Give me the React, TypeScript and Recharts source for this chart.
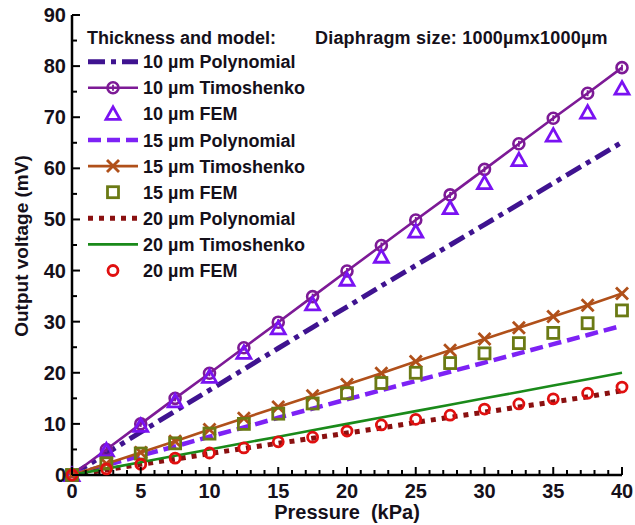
import { LineChart, Line, XAxis, YAxis } from 'recharts'

// pressure in kPa, output voltage in mV
const pressure = [0, 2.5, 5, 7.5, 10, 12.5, 15, 17.5, 20, 22.5, 25, 27.5, 30, 32.5, 35, 37.5, 40]

const poly10 = [0, 4.2, 8.4, 12.5, 16.6, 20.7, 24.8, 28.9, 32.9, 37.0, 41.0, 45.0, 49.0, 53.0, 57.1, 61.1, 65.1]
const tim10 = [0, 5.0, 10.0, 15.0, 19.9, 24.9, 29.9, 34.9, 39.9, 44.9, 49.9, 54.8, 59.8, 64.8, 69.8, 74.7, 79.7]
const fem10 = [0, 4.8, 9.6, 14.4, 19.2, 23.9, 28.7, 33.4, 38.2, 42.7, 47.6, 52.2, 57.1, 61.6, 66.4, 70.9, 75.6]
const poly15 = [0, 1.9, 3.8, 5.6, 7.5, 9.3, 11.2, 13.0, 14.8, 16.6, 18.4, 20.2, 22.0, 23.8, 25.6, 27.4, 29.2]
const tim15 = [0, 2.2, 4.4, 6.6, 8.9, 11.1, 13.3, 15.5, 17.7, 19.9, 22.2, 24.4, 26.6, 28.8, 31.0, 33.2, 35.5]
const fem15 = [0, 2.3, 4.2, 6.2, 8.1, 10.0, 12.0, 14.0, 16.0, 18.0, 20.0, 21.9, 23.8, 25.8, 27.8, 29.7, 32.2]
const poly20 = [0, 1.0, 2.1, 3.1, 4.2, 5.2, 6.2, 7.2, 8.2, 9.2, 10.3, 11.3, 12.3, 13.3, 14.3, 15.3, 16.5]
const tim20 = [0, 1.25, 2.5, 3.75, 5.0, 6.25, 7.5, 8.75, 10.0, 11.25, 12.5, 13.75, 15.0, 16.25, 17.5, 18.75, 20.0]
const fem20 = [0, 1.2, 2.1, 3.3, 4.3, 5.3, 6.5, 7.4, 8.6, 9.8, 10.9, 11.7, 12.9, 13.9, 14.9, 16.0, 17.2]

const xMajorTicks = [0, 5, 10, 15, 20, 25, 30, 35, 40]
const yMajorTicks = [0, 10, 20, 30, 40, 50, 60, 70, 80, 90]

const legendTitle = 'Thickness and model:'
const sizeNote = 'Diaphragm size: 1000\u00b5mx1000\u00b5m'

const data = pressure.map((p, i) => ({
  p,
  poly10: poly10[i], tim10: tim10[i], fem10: fem10[i],
  poly15: poly15[i], tim15: tim15[i], fem15: fem15[i],
  poly20: poly20[i], tim20: tim20[i], fem20: fem20[i],
}))

type Kind = 'circleBar' | 'cross' | 'triangle' | 'square' | 'circle' | 'none'

interface Series {
  key: string
  name: string
  color: string
  width: number
  dash?: string
  line: boolean
  marker: Kind
}

const series: Series[] = [
  { key: 'poly10', name: '10 \u00b5m Polynomial', color: '#3f1390', width: 5, dash: '17 6 5 6', line: true, marker: 'none' },
  { key: 'tim10', name: '10 \u00b5m Timoshenko', color: '#7d1a96', width: 2.6, line: true, marker: 'circleBar' },
  { key: 'fem10', name: '10 \u00b5m FEM', color: '#7a12f2', width: 2.5, line: false, marker: 'triangle' },
  { key: 'poly15', name: '15 \u00b5m Polynomial', color: '#7d22f5', width: 4.5, dash: '13 6', line: true, marker: 'none' },
  { key: 'tim15', name: '15 \u00b5m Timoshenko', color: '#b0501a', width: 2.6, line: true, marker: 'cross' },
  { key: 'fem15', name: '15 \u00b5m FEM', color: '#6b7a14', width: 2.5, line: false, marker: 'square' },
  { key: 'poly20', name: '20 \u00b5m Polynomial', color: '#8a1010', width: 5, dash: '5 6', line: true, marker: 'none' },
  { key: 'tim20', name: '20 \u00b5m Timoshenko', color: '#1a8a1a', width: 2.6, line: true, marker: 'none' },
  { key: 'fem20', name: '20 \u00b5m FEM', color: '#e01010', width: 2.5, line: false, marker: 'circle' },
]

const W = 635
const H = 525
const PLOT = { left: 72, right: 622, top: 15, bottom: 475 }
const FONT = '"Liberation Sans", Arial, sans-serif'
const TEXT = '#15101a'

function Marker({ kind, cx, cy, color }: { kind: Kind; cx: number; cy: number; color: string }) {
  if (kind === 'circleBar')
    return (
      <g>
        <circle cx={cx} cy={cy} r={5.5} fill="none" stroke={color} strokeWidth={2.6} />
        <line x1={cx} x2={cx} y1={cy - 3} y2={cy + 3} stroke={color} strokeWidth={1.8} />
      </g>
    )
  if (kind === 'cross')
    return (
      <g stroke={color} strokeWidth={2.8}>
        <line x1={cx - 6} y1={cy - 6} x2={cx + 6} y2={cy + 6} />
        <line x1={cx - 6} y1={cy + 6} x2={cx + 6} y2={cy - 6} />
      </g>
    )
  if (kind === 'triangle')
    return <polygon points={`${cx},${cy - 7} ${cx - 7},${cy + 5.5} ${cx + 7},${cy + 5.5}`} fill="none" stroke={color} strokeWidth={2.8} />
  if (kind === 'square')
    return <rect x={cx - 5.5} y={cy - 5.5} width={11} height={11} fill="none" stroke={color} strokeWidth={2.8} />
  if (kind === 'circle') return <circle cx={cx} cy={cy} r={5} fill="none" stroke={color} strokeWidth={2.8} />
  return null
}

const minor = (step: number, max: number) => {
  const out: number[] = []
  for (let v = 0; v <= max + 1e-9; v += step) out.push(+v.toFixed(2))
  return out
}
const xTicks = minor(1, 40)
const yTicks = minor(5, 90)

const tickText = { fontFamily: FONT, fontWeight: 700, fontSize: 20, fill: TEXT }

function BottomTick({ x, payload }: any) {
  const major = xMajorTicks.includes(payload.value)
  return (
    <g>
      <line x1={x} x2={x} y1={PLOT.bottom} y2={PLOT.bottom - (major ? 8 : 5)} stroke="#000" strokeWidth={2} />
      {major && (
        <text x={x} y={PLOT.bottom + 23} textAnchor="middle" {...tickText}>
          {payload.value}
        </text>
      )}
    </g>
  )
}

function TopTick({ x, payload }: any) {
  const major = xMajorTicks.includes(payload.value)
  return <line x1={x} x2={x} y1={PLOT.top} y2={PLOT.top + (major ? 8 : 5)} stroke="#000" strokeWidth={2} />
}

function LeftTick({ y, payload }: any) {
  const major = yMajorTicks.includes(payload.value)
  return (
    <g>
      <line x1={PLOT.left} x2={PLOT.left + (major ? 8 : 5)} y1={y} y2={y} stroke="#000" strokeWidth={2} />
      {major && (
        <text x={PLOT.left - 6} y={y + 7} textAnchor="end" {...tickText}>
          {payload.value}
        </text>
      )}
    </g>
  )
}

function RightTick({ y, payload }: any) {
  const major = yMajorTicks.includes(payload.value)
  return <line x1={PLOT.right} x2={PLOT.right - (major ? 8 : 5)} y1={y} y2={y} stroke="#000" strokeWidth={2} />
}

function LegendOverlay() {
  const rowY = (i: number) => 61.7 + i * 26.1
  const t = { fontFamily: FONT, fontWeight: 700, fontSize: 18, fill: TEXT }
  return (
    <svg width={W} height={H} style={{ position: 'absolute', left: 0, top: 0, pointerEvents: 'none' }}>
      <text x={87} y={44} {...t}>{legendTitle}</text>
      <text x={315} y={44} {...t} letterSpacing={0.2}>{sizeNote}</text>
      {series.map((s, i) => (
        <g key={s.key}>
          {s.line && (
            <line x1={88} x2={138} y1={rowY(i)} y2={rowY(i)} stroke={s.color} strokeWidth={s.width} strokeDasharray={s.dash} />
          )}
          <Marker kind={s.marker} cx={113} cy={rowY(i)} color={s.color} />
          <text x={143} y={rowY(i) + 6.5} {...t}>{s.name}</text>
        </g>
      ))}
      <text x={347} y={519} textAnchor="middle" fontFamily={FONT} fontWeight={700} fontSize={20} fill={TEXT} xmlSpace="preserve">
        Pressure  (kPa)
      </text>
      <text
        x={0}
        y={0}
        transform={`translate(28, 246) rotate(-90)`}
        textAnchor="middle"
        fontFamily={FONT}
        fontWeight={700}
        fontSize={19}
        fill={TEXT}
      >
        Output voltage (mV)
      </text>
    </svg>
  )
}

export default function App() {
  return (
    <div style={{ position: 'absolute', left: 0, top: 0, width: W, height: H, background: '#fff' }}>
      <LineChart width={W} height={H} data={data} margin={{ top: PLOT.top, right: W - PLOT.right, left: 0, bottom: 0 }}>
        <XAxis
          dataKey="p"
          type="number"
          domain={[0, 40]}
          ticks={xTicks}
          interval={0}
          height={H - PLOT.bottom}
          tickLine={false}
          tick={<BottomTick />}
          axisLine={{ stroke: '#000', strokeWidth: 2.5 }}
        />
        <XAxis
          xAxisId="top"
          orientation="top"
          dataKey="p"
          type="number"
          domain={[0, 40]}
          ticks={xTicks}
          interval={0}
          height={0}
          tickLine={false}
          tick={<TopTick />}
          axisLine={{ stroke: '#000', strokeWidth: 2.5 }}
        />
        <YAxis
          type="number"
          domain={[0, 90]}
          ticks={yTicks}
          interval={0}
          width={PLOT.left}
          tickLine={false}
          tick={<LeftTick />}
          axisLine={{ stroke: '#000', strokeWidth: 2.5 }}
        />
        <YAxis
          yAxisId="right"
          orientation="right"
          type="number"
          domain={[0, 90]}
          ticks={yTicks}
          interval={0}
          width={0}
          tickLine={false}
          tick={<RightTick />}
          axisLine={{ stroke: '#000', strokeWidth: 2.5 }}
        />
        {series.map((s) => (
          <Line
            key={s.key}
            dataKey={s.key}
            name={s.name}
            type="linear"
            stroke={s.line ? s.color : 'none'}
            strokeWidth={s.width}
            strokeDasharray={s.dash}
            isAnimationActive={false}
            dot={(p: any) => <Marker key={`${s.key}-${p.index}`} kind={s.marker} cx={p.cx} cy={p.cy} color={s.color} />}
            activeDot={false}
          />
        ))}
      </LineChart>
      <LegendOverlay />
    </div>
  )
}
